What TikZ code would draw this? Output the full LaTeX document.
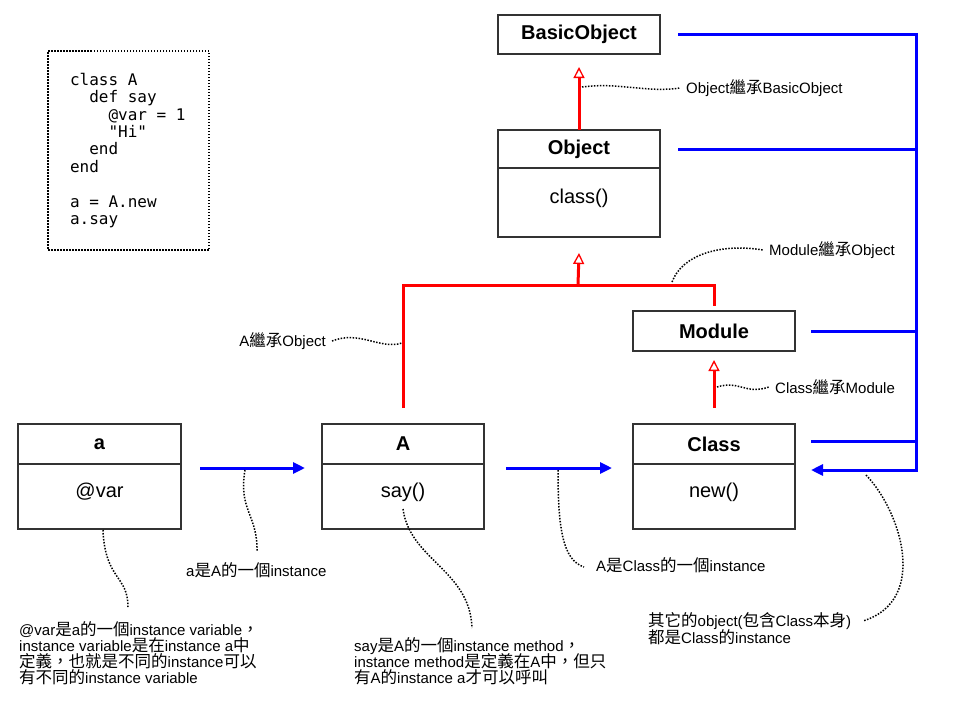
\documentclass[tikz,border=0pt]{standalone}
\usepackage{fontspec}
\setmainfont{Liberation Sans}
\setmonofont{DejaVu Sans Mono}
\newfontfamily\cjk[Scale=1.1]{Noto Sans CJK TC}
\newcommand{\zh}[1]{{\cjk #1}}
\newcommand{\notefont}[1]{\fontsize{15}{#1}\selectfont\lineskiplimit=-8pt\relax}
\usetikzlibrary{arrows.meta}

\tikzset{
  box/.style={draw=black!80, line width=1.3pt, minimum width=162pt, inner sep=0pt, outer sep=0pt},
  boxtitle/.style={box, font=\fontsize{20}{24}\selectfont\bfseries, minimum height=40pt},
  boxbody/.style={box, font=\fontsize{20}{24}\selectfont, minimum height=65pt, text height=13pt, text depth=11pt},
  note/.style={font=\notefont{16}, inner sep=0pt, align=left},
  remark/.style={black, line width=1.5pt, dash pattern=on 1.5pt off 1.5pt},
  inheritline/.style={red, line width=3pt},
  inherit/.style={inheritline, -{Triangle[open, fill=white, length=11pt, width=11pt, line width=1.3pt]}},
  instanceline/.style={blue, line width=3pt},
  instance/.style={instanceline, -{Triangle[length=12pt, width=11pt]}}
}

\begin{document}
\begin{tikzpicture}[x=1pt, y=-1pt]
    \useasboundingbox (0,0) rectangle (960,707);
    % code
    \node[draw, remark, minimum width=161pt, minimum height=199pt, inner xsep=22pt, text width=117pt, align=flush left,
          font=\ttfamily\fontsize{16}{17.4}\selectfont] (code) at (128.5,150.5)
      {class A\\ \phantom{xx}def say\\ \phantom{xxxx}@var = 1\\ \phantom{xxxx}"Hi"\\ \phantom{xx}end\\ end\\[17.4pt]
       a = A.new\\ a.say};
    % classes
    \node[boxtitle, minimum height=39pt] (basic) at (579,34.5) {BasicObject};
    \node[boxtitle, minimum height=38pt] (obj-title) at (579,149) {Object};
    \node[boxbody, minimum height=69pt] (obj-body) at (579,202.5) {class()};
    \node[boxtitle] (module) at (714,331) {Module};
    \node[boxtitle, minimum width=163pt] (a-title) at (99.5,444) {a};
    \node[boxbody, minimum width=163pt] (a-body) at (99.5,496.5) {@var};
    \node[boxtitle] (A-title) at (403,444) {A};
    \node[boxbody] (A-body) at (403,496.5) {say()};
    \node[boxtitle] (class-title) at (714,444) {Class};
    \node[boxbody] (class-body) at (714,496.5) {new()};
    % inheritance
    \coordinate (join) at (578,285);
    \draw[inherit] (obj-title.north) -- ([yshift=-13pt]basic.south);
    \draw[inheritline] ([yshift=16pt]A-title.north) |- (join) -| ([yshift=5pt]module.north);
    \draw[inherit] (join) -- ([yshift=-16pt]obj-body.south);
    \draw[inherit] ([yshift=16pt]class-title.north) -- ([yshift=-9pt]module.south);
    % instance of
    \coordinate (rail) at (916,470);
    \coordinate (class-in) at ([xshift=16pt,yshift=-6pt]class-body.north east);
    \draw[instance] ([xshift=18pt]basic.east) -| (rail) -- (class-in);
    \draw[instanceline] ([xshift=18pt]obj-title.east) -- (obj-title.east -| rail);
    \draw[instanceline] ([xshift=16pt]module.east) -- (module.east -| rail);
    \draw[instanceline] ([xshift=16pt,yshift=3pt]class-title.east) -- ([yshift=3pt]class-title.east -| rail);
    \draw[instance] ([xshift=19pt,yshift=-4pt]a-body.north east) -- ([xshift=-17pt,yshift=-4pt]A-body.north west);
    \draw[instance] ([xshift=22pt,yshift=-4pt]A-body.north east) -- ([xshift=-21pt,yshift=-4pt]class-body.north west);
    % notes
    \node[note, anchor=west] (n-basic) at (686,88) {Object\zh{繼承}BasicObject};
    \node[note, anchor=west] (n-module) at (769,250) {Module\zh{繼承}Object};
    \node[note, anchor=east] (n-A) at (326,341) {A\zh{繼承}Object};
    \node[note, anchor=west] (n-class) at (775,387) {Class\zh{繼承}Module};
    \node[note, anchor=west] (n-a-A) at (186,570) {a\zh{是}A\zh{的一個}instance};
    \node[note, anchor=west] (n-A-class) at (596,565) {A\zh{是}Class\zh{的一個}instance};
    \node[note, anchor=north west] (n-var) at (19,621)
      {@var\zh{是}a\zh{的一個}instance variable\zh{，}\\ instance variable\zh{是在}instance a\zh{中}\\
       \zh{定義，也就是不同的}instance\zh{可以}\\ \zh{有不同的}instance variable};
    \node[note, anchor=north west] (n-say) at (354,637)
      {say\zh{是}A\zh{的一個}instance method\zh{，}\\ instance method\zh{是定義在}A\zh{中，但只}\\
       \zh{有}A\zh{的}instance a\zh{才可以呼叫}};
    \node[note, anchor=north west, font=\notefont{17}] (n-other) at (648,612)
      {\zh{其它的}object(\zh{包含}Class\zh{本身})\\ \zh{都是}Class\zh{的}instance};
    % remarks
    \draw[remark] (582,87) .. controls (620,82) and (645,93) .. ([xshift=-6pt]n-basic.west);
    \draw[remark] (672,282) .. controls (682,255) and (720,243) .. ([xshift=-6pt]n-module.west);
    \draw[remark] ([xshift=6pt]n-A.east) .. controls (360,330) and (380,350) .. (402,343);
    \draw[remark] (717,387) .. controls (740,380) and (745,395) .. ([xshift=-6pt]n-class.west);
    \draw[remark] (245,470) .. controls (238,510) and (258,515) .. (257,552);
    \draw[remark] (558,470) .. controls (558,530) and (563,560) .. (584,567);
    \draw[remark] (103,530) .. controls (105,580) and (128,575) .. (128,607);
    \draw[remark] (403,509) .. controls (410,560) and (470,570) .. (472,628);
    \draw[remark] (866,475) .. controls (900,510) and (930,600) .. (863,621);
\end{tikzpicture}
\end{document}
